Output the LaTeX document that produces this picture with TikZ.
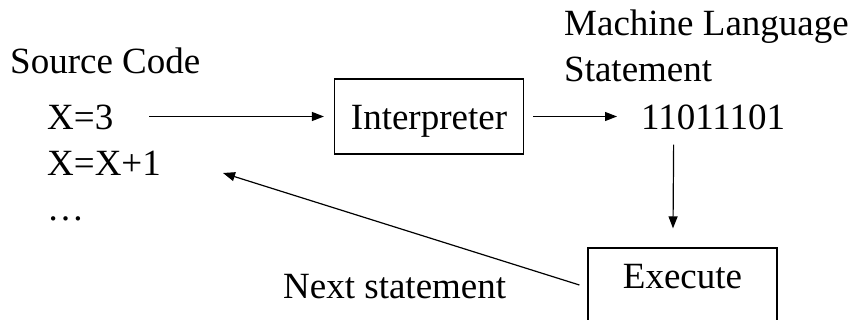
\documentclass[tikz,border=0pt]{standalone}
\usepackage{fontspec}
\setmainfont{Liberation Serif}
\usetikzlibrary{arrows.meta}
\begin{document}
\begin{tikzpicture}[x=1pt,y=-1pt,
  every node/.style={font=\fontsize{37}{44}\selectfont},
  txt/.style={anchor=base west,inner sep=0pt},
  stepbox/.style={draw,line width=1.2pt,inner sep=0pt,minimum width=189pt,minimum height=75pt,text height=27pt,text depth=0pt},
  arr/.style={-{Triangle[length=12pt,width=9pt]},line width=1.2pt}]
\useasboundingbox (0,0) rectangle (852,320);
\clip (0,0) rectangle (852,320);
\node[txt] (src) at (10,74) {Source Code};
\node[txt] (x3) at (47,130) {X=3};
\node[txt] (xx1) at (47,176) {X=X+1};
\node[txt] (dots) at (47,221) {\dots};
\node[stepbox] (interp) at (429,116.5) {Interpreter};
\node[txt] (mls) at (564,36) {Machine Language};
\node[txt] (stmt) at (564,82) {Statement};
\node[txt] (code) at (641,130) {11011101};
\node[stepbox,minimum height=80pt,text depth=25pt] (exec) at (682.5,288) {Execute};
\node[txt] (next) at (283,299) {Next statement};
\coordinate (back) at (223,173);
\draw[arr] ([xshift=36pt]x3.east |- interp.west) -- ([xshift=-10pt]interp.west);
\draw[arr] ([xshift=9pt]interp.east) -- ([xshift=-24pt]code.west |- interp.east);
\draw[arr] ([xshift=673pt-712.5pt,yshift=-14pt]code.south) -- ([xshift=-9.5pt,yshift=19pt]exec.north);
\draw[arr] ([xshift=-8pt,yshift=3pt]exec.west) -- (back);
\end{tikzpicture}
\end{document}
